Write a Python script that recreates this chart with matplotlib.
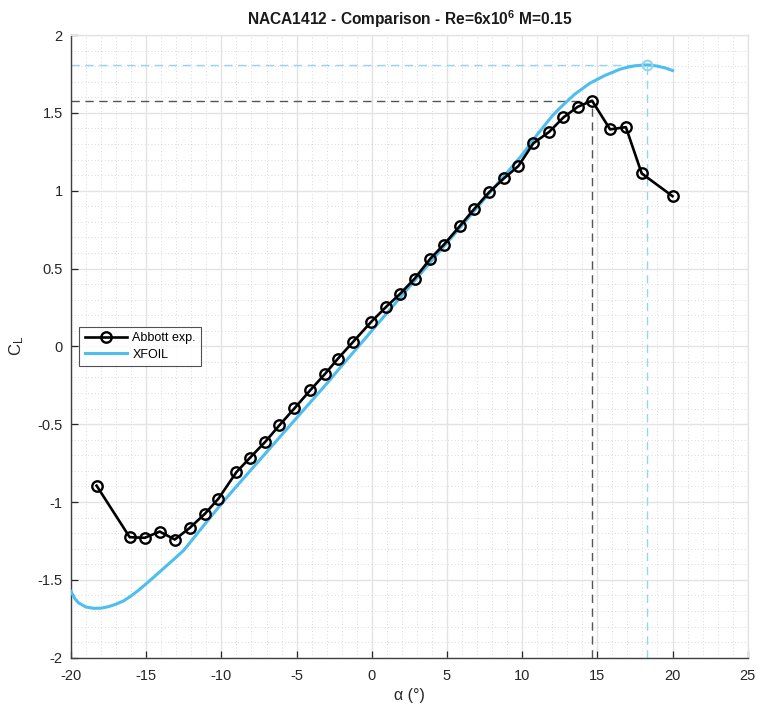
import numpy as np
import matplotlib
matplotlib.use("Agg")
import matplotlib.pyplot as plt
from matplotlib.ticker import MultipleLocator, FuncFormatter

plt.rcParams['font.family'] = ['Liberation Sans', 'DejaVu Sans']
plt.rcParams['mathtext.fontset'] = 'custom'
plt.rcParams['mathtext.rm'] = 'Liberation Sans'
plt.rcParams['mathtext.bf'] = 'Liberation Sans:bold'
plt.rcParams['mathtext.default'] = 'regular'

# Abbott experimental data
exp_alpha = [-18.3, -16.1, -15.1, -14.1, -13.1, -12.1, -11.1, -10.2, -9.0, -8.1,
             -7.1, -6.15, -5.15, -4.1, -3.1, -2.25, -1.25, -0.05, 0.95, 1.9,
             2.85, 3.9, 4.8, 5.85, 6.8, 7.8, 8.8, 9.75, 10.75, 11.8,
             12.75, 13.7, 14.65, 15.85, 16.9, 17.95, 20.0]
exp_cl = [-0.895, -1.226, -1.23, -1.19, -1.241, -1.166, -1.076, -0.979, -0.808, -0.716,
          -0.615, -0.508, -0.399, -0.283, -0.176, -0.079, 0.028, 0.156, 0.253, 0.339,
          0.435, 0.564, 0.654, 0.772, 0.881, 0.99, 1.08, 1.158, 1.305, 1.378,
          1.471, 1.539, 1.578, 1.394, 1.408, 1.111, 0.965]

# XFOIL data
xf_alpha = [-20, -19.75, -19.5, -19, -18.5, -18, -17.5, -17, -16.5, -16, -15.5, -15,
            -14.5, -14, -13.5, -13, -12.5, -12, -11, -10, -9, -8, -7, -6, -5, -4,
            -3, -2, -1, 0, 1, 2, 3, 4, 5, 6, 7, 8, 9, 10, 10.5, 11, 11.5, 12,
            12.5, 13, 13.5, 14, 14.5, 15, 15.5, 16, 16.5, 17, 17.5, 18, 18.3,
            18.5, 19, 19.5, 20]
xf_cl = [-1.575, -1.62, -1.648, -1.675, -1.683, -1.682, -1.672, -1.656, -1.635, -1.603,
         -1.566, -1.525, -1.483, -1.44, -1.397, -1.354, -1.31, -1.25, -1.13, -1.012,
         -0.90, -0.79, -0.68, -0.57, -0.46, -0.35, -0.24, -0.125, -0.013, 0.10,
         0.213, 0.326, 0.439, 0.552, 0.665, 0.778, 0.891, 1.004, 1.117, 1.23,
         1.295, 1.36, 1.42, 1.48, 1.53, 1.575, 1.62, 1.655, 1.69, 1.715, 1.74,
         1.76, 1.78, 1.793, 1.802, 1.807, 1.808, 1.807, 1.80, 1.789, 1.772]

xticks = [-20, -15, -10, -5, 0, 5, 10, 15, 20, 25]
yticks = [-2, -1.5, -1, -0.5, 0, 0.5, 1, 1.5, 2]

xfoil_color = '#4DBEEE'
xfoil_light = '#93D6F2'

fig = plt.figure(figsize=(7.58, 7.09), dpi=100)
ax = fig.add_axes([0.0937, 0.0724, 0.9864 - 0.0937, 0.9506 - 0.0724])

ax.set_xlim(-20, 25)
ax.set_ylim(-2, 2)

# grid
ax.set_xticks(xticks)
ax.set_yticks(yticks)
ax.xaxis.set_minor_locator(MultipleLocator(1))
ax.yaxis.set_minor_locator(MultipleLocator(0.1))
ax.grid(True, which='major', color='#e3e3e3', linewidth=1.0, linestyle='-')
ax.grid(True, which='minor', color='#cdcdcd', linewidth=0.6, linestyle=(0, (1, 3)))
ax.set_axisbelow(True)

# experimental peak
i_max = int(np.argmax(exp_cl))
ax.plot([-20, exp_alpha[i_max]], [exp_cl[i_max], exp_cl[i_max]], color='#555555',
        linestyle=(0, (6, 4)), linewidth=1.0)
ax.plot([exp_alpha[i_max], exp_alpha[i_max]], [-2, exp_cl[i_max]], color='#555555',
        linestyle=(0, (6, 4)), linewidth=1.0)

# xfoil peak
j_max = int(np.argmax(xf_cl))
ax.plot([-20, xf_alpha[j_max]], [xf_cl[j_max], xf_cl[j_max]], color=xfoil_light,
        linestyle=(0, (6, 4)), linewidth=1.0)
ax.plot([xf_alpha[j_max], xf_alpha[j_max]], [-2, xf_cl[j_max]], color=xfoil_light,
        linestyle=(0, (6, 4)), linewidth=1.0)

ax.plot(exp_alpha, exp_cl, color='black', linewidth=1.9, marker='o', markersize=7.5,
        markerfacecolor='none', markeredgewidth=1.7, label='Abbott exp.', zorder=4)
ax.plot(xf_alpha, xf_cl, color=xfoil_color, linewidth=2.2, label='XFOIL', zorder=3)
ax.plot([xf_alpha[j_max]], [xf_cl[j_max]], marker='o', markersize=7,
        markerfacecolor='none', markeredgecolor=xfoil_light, markeredgewidth=1.5,
        linestyle='none', zorder=5)

fmt = FuncFormatter(lambda v, p: '{:g}'.format(v))
ax.xaxis.set_major_formatter(fmt)
ax.yaxis.set_major_formatter(fmt)
ax.tick_params(which='major', direction='in', length=5, width=0.9, color='#262626',
               labelsize=10.5, labelcolor='#262626', top=False, right=False)
ax.tick_params(axis='x', which='major', pad=8)
ax.tick_params(axis='y', which='major', pad=6)
ax.tick_params(which='minor', length=0)

for s in ['left', 'bottom']:
    ax.spines[s].set_color('#404040')
    ax.spines[s].set_linewidth(1.0)
for s in ['top', 'right']:
    ax.spines[s].set_color('#e3e3e3')
    ax.spines[s].set_linewidth(1.0)

ax.set_xlabel('α (°)', fontsize=11.5, color='#262626', labelpad=4)
ax.set_ylabel(r'C$_{L}$', fontsize=12, color='#262626', labelpad=8)
ax.set_title(r'NACA1412 - Comparison - Re=6x10$^{\mathbf{6}}$ M=0.15', fontsize=11.2,
             fontweight='bold', color='#1a1a1a', pad=7)

leg = ax.legend(loc='center left', bbox_to_anchor=(0.012, 0.5), fontsize=9,
                frameon=True, fancybox=False, edgecolor='#262626', handlelength=3.4,
                borderpad=0.45, labelspacing=0.35, handletextpad=0.4, borderaxespad=0)
leg.get_frame().set_linewidth(0.8)

fig.savefig('out.png', dpi=100)
